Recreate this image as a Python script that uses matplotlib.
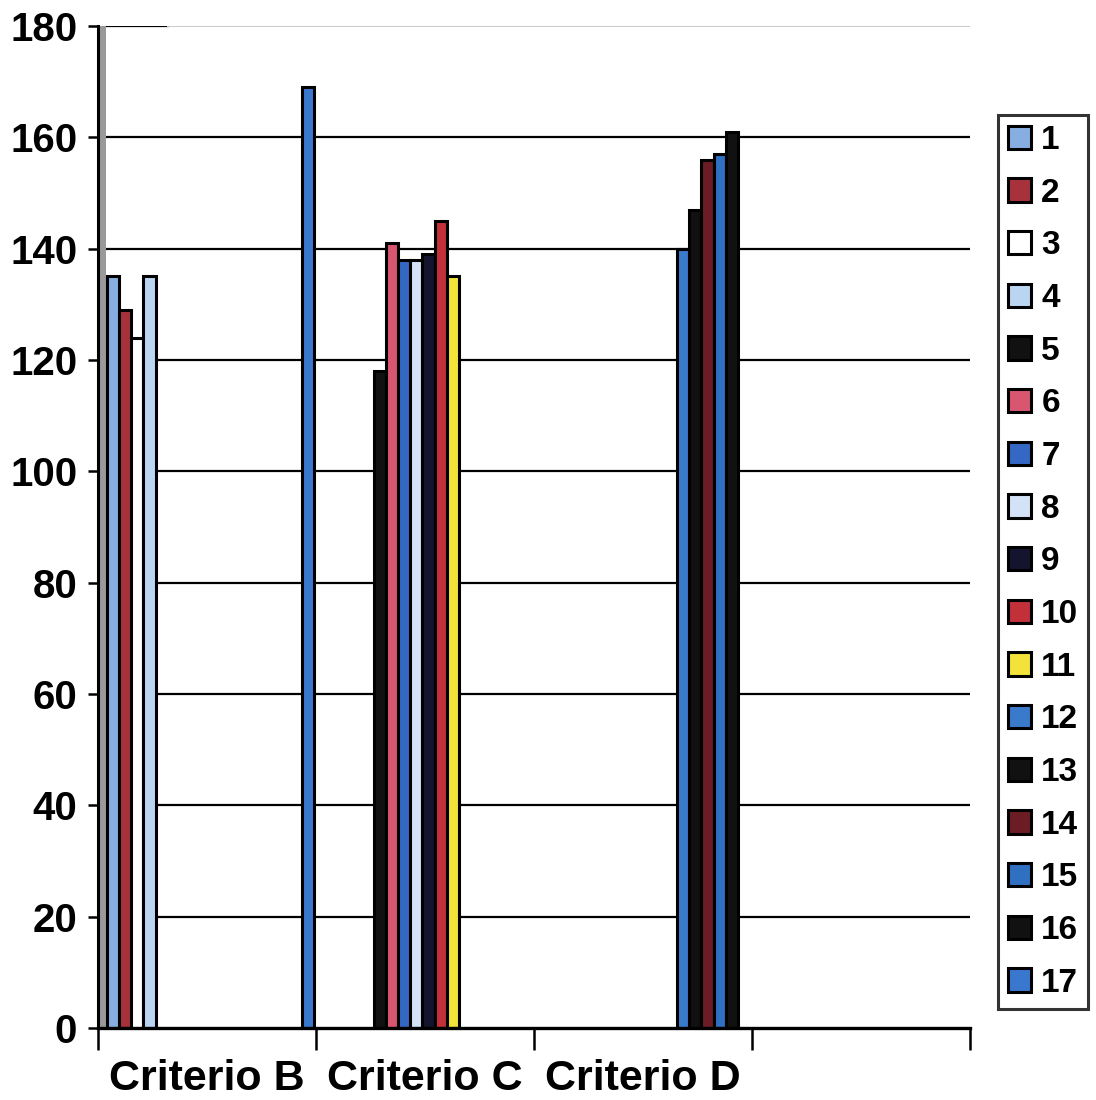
import numpy as np
import matplotlib
matplotlib.use("Agg")
import matplotlib.pyplot as plt
from matplotlib.patches import Rectangle

plt.rcParams['font.family'] = ['Liberation Sans', 'DejaVu Sans']
plt.rcParams['font.weight'] = 'bold'

# Categories on the x axis (the fourth slot carries no label)
categories = ["Criterio B", "Criterio C", "Criterio D", ""]
series_names = [str(i) for i in range(1, 18)]

# Value of each series in each category (0 = no bar)
s1 = [135, 0, 0, 0]
s2 = [129, 0, 0, 0]
s3 = [124, 0, 0, 0]
s4 = [135, 0, 0, 0]
s5 = [0, 118, 0, 0]
s6 = [0, 141, 0, 0]
s7 = [0, 138, 0, 0]
s8 = [0, 138, 0, 0]
s9 = [0, 139, 0, 0]
s10 = [0, 145, 0, 0]
s11 = [0, 135, 0, 0]
s12 = [0, 0, 140, 0]
s13 = [0, 0, 147, 0]
s14 = [0, 0, 156, 0]
s15 = [0, 0, 157, 0]
s16 = [0, 0, 161, 0]
s17 = [169, 0, 0, 0]
values = [s1, s2, s3, s4, s5, s6, s7, s8, s9, s10, s11, s12, s13, s14, s15, s16, s17]

colors = ["#86aee0", "#a8323c", "#ffffff", "#b9d5f2", "#111111", "#d8566f",
          "#3468c4", "#d3e2f6", "#14142e", "#c2303a", "#f2e23a", "#3a7acb",
          "#111111", "#6b1c24", "#2f70c0", "#111111", "#3a78d0"]

yticks = [0, 20, 40, 60, 80, 100, 120, 140, 160, 180]

fig = plt.figure(figsize=(10.96, 11.0), dpi=100)
ax = fig.add_axes([0.0894, 0.0655, 0.7956, 0.9109])

n_cat = len(categories)
n_ser = len(values)
slot = 0.056
offset = 0.04
x = np.arange(n_cat)

handles = []
for i, (vals, col) in enumerate(zip(values, colors)):
    v = np.array(vals, dtype=float)
    mask = v > 0
    pos = x + offset + (i + 0.5) * slot
    ax.bar(pos[mask], v[mask], width=slot, color=col, edgecolor="black",
           linewidth=2.2, zorder=3, align="center")
    handles.append(Rectangle((0, 0), 1, 1, facecolor=col, edgecolor="black", linewidth=2.2))

ax.set_xlim(0, n_cat)
ax.set_ylim(0, 180)

# horizontal gridlines
for yv in yticks[1:-1]:
    ax.axhline(yv, color="black", linewidth=1.6, zorder=1)
ax.axhline(180, xmin=0, xmax=0.08, color="black", linewidth=1.6, zorder=1)
ax.axhline(180, xmin=0.08, xmax=1, color="#c8c8c8", linewidth=1.4, zorder=1)

# grey wall edge beside the value axis
ax.axvspan(0, 0.035, color="#9a9a9a", zorder=2, linewidth=0)

for side in ["top", "right"]:
    ax.spines[side].set_visible(False)
ax.spines["left"].set_linewidth(2.2)
ax.spines["bottom"].set_linewidth(2.4)
ax.spines["left"].set_zorder(5)
ax.spines["bottom"].set_zorder(5)

ax.set_yticks(yticks)
ax.set_yticklabels([str(t) for t in yticks], fontsize=29, fontweight="bold")
ax.tick_params(axis="y", length=7, width=1.8, pad=8, direction="out")

ax.set_xticks(x + 0.5)
ax.set_xticklabels(categories, fontsize=31, fontweight="bold")
ax.tick_params(axis="x", which="major", length=0, pad=22)
ax.set_xticks(np.arange(n_cat + 1), minor=True)
ax.tick_params(axis="x", which="minor", length=16, width=1.8, direction="out")

leg = fig.legend(handles, series_names, loc="upper left",
                 bbox_to_anchor=(0.9106, 0.8955), bbox_transform=fig.transFigure,
                 prop={"weight": "bold", "size": 24},
                 frameon=True, fancybox=False, edgecolor="black",
                 handlelength=0.7, handleheight=0.7, handletextpad=0.3,
                 labelspacing=0.65, borderpad=0.3, borderaxespad=0)
leg.get_frame().set_linewidth(2.2)

fig.savefig("out.png", dpi=100, facecolor="white")
